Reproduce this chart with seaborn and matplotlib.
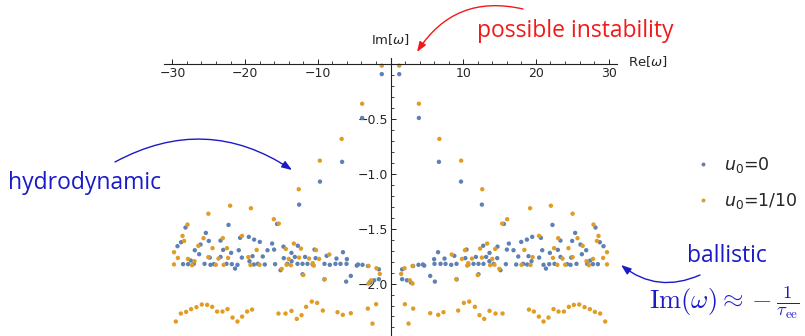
import matplotlib
matplotlib.use("Agg")
import matplotlib.pyplot as plt
import pandas as pd
import seaborn as sns
from matplotlib.ticker import FixedLocator, MultipleLocator

series_labels = ["$u_0$=0", "$u_0$=1/10"]
series_colors = ["#5E81B5", "#E19C24"]

# ---- u0 = 0 (blue) ----
blue_re_left = [
    -1.2, -3.9, -6.66, -9.7, -12.57, -15.6, -22.28, -28.2, -28.8, -25.4,
    -24.99, -23.38, -20.69, -19.49, -18.76, -17.98, -29.3, -26.13, -23.02, -26.92,
    -26.32, -21.92, -20.87, -16.92, -16.28, -27.47, -24.86, -23.38, -20.45, -18.98,
    -17.57, -19.4, -28.53, -27.84, -27.06, -25.58, -24.76, -24.3, -22.56, -21.83,
    -21.05, -21.38, -18.8, -18.25, -17.29, -15.87, -16.01, -14.72, -12.75, -13.62,
    -14.68, -13.6, -13.16, -11.75, -10.45, -10.3, -8.78, -7.43, -6.54, -6.0,
    -15.13, -14.2, -12.79, -12.1, -11.42, -10.7, -9.08, -8.35, -7.57, -6.88,
    -6.05, -4.64, -4.46, -3.85, -3.1, -1.6, -12.1, -9.1, -5.46, -6.1,
    -1.6, -2.25, -2.8]
blue_re_right = [
    1.2, 3.9, 6.66, 9.7, 12.57, 15.6, 22.28, 28.2, 28.8, 25.4,
    24.99, 23.38, 20.69, 19.49, 18.76, 17.98, 29.3, 26.13, 23.02, 26.92,
    26.32, 21.92, 20.87, 16.92, 16.28, 27.47, 24.86, 23.38, 20.45, 18.98,
    17.57, 19.4, 28.53, 27.84, 27.06, 25.58, 24.76, 24.3, 22.56, 21.83,
    21.05, 21.38, 18.8, 18.25, 17.29, 15.87, 16.01, 14.72, 12.75, 13.62,
    14.68, 13.6, 13.16, 11.75, 10.45, 10.3, 8.78, 7.43, 6.54, 6.0,
    15.13, 14.2, 12.79, 12.1, 11.42, 10.7, 9.08, 8.35, 7.57, 6.88,
    6.05, 4.64, 4.46, 3.85, 3.1, 1.6, 12.1, 9.1, 5.46, 6.1,
    1.6, 2.25, 2.8]
blue_im = [
    -0.09, -0.49, -0.89, -1.07, -1.28, -1.456, -1.465, -1.489, -1.623, -1.538,
    -1.611, -1.608, -1.583, -1.574, -1.599, -1.62, -1.659, -1.644, -1.693, -1.696,
    -1.732, -1.72, -1.696, -1.696, -1.635, -1.79, -1.763, -1.757, -1.763, -1.75,
    -1.753, -1.796, -1.823, -1.823, -1.82, -1.82, -1.829, -1.823, -1.82, -1.823,
    -1.829, -1.863, -1.826, -1.82, -1.826, -1.823, -1.69, -1.663, -1.655, -1.72,
    -1.768, -1.796, -1.757, -1.757, -1.69, -1.768, -1.747, -1.772, -1.714, -1.777,
    -1.878, -1.82, -1.82, -1.82, -1.82, -1.826, -1.82, -1.829, -1.82, -1.82,
    -1.82, -1.836, -1.826, -1.829, -1.84, -1.87, -1.915, -1.962, -1.93, -1.982,
    -1.96, -1.97, -1.99]

# ---- u0 = 1/10 (orange) ----
orange_re_left = [
    -1.2, -3.9, -6.72, -9.72, -12.62, -15.36, -16.05, -22.06, -19.2, -25.05,
    -27.92, -28.61, -28.39, -25.72, -23.07, -20.43, -26.43, -24.48, -22.5, -29.78,
    -18.41, -29.25, -27.86, -26.96, -25.05, -23.66, -22.34, -19.55, -29.78, -27.29,
    -24.03, -22.95, -19.26, -18.02, -14.4, -13.3, -12.32, -14.0, -12.57, -11.2,
    -10.25, -9.82, -8.42, -14.97, -14.3, -13.71, -10.7, -10.55, -3.03, -1.93,
    -1.47, -12.0, -9.06, -2.66, -3.03,
    -29.53, -28.84, -28.11, -27.42, -26.69, -25.96, -25.22, -24.53, -23.85, -23.11,
    -22.42, -21.73, -21.05, -20.41, -19.72, -19.04, -15.41, -14.44, -13.62, -12.89,
    -12.24, -11.61, -10.83, -10.09, -9.31, -7.29, -6.56, -5.46, -3.12, -2.48, -1.98]
orange_re_right = [
    1.2, 3.9, 6.72, 9.72, 12.62, 15.36, 16.05, 22.06, 19.2, 25.05,
    27.92, 28.61, 28.39, 25.72, 23.07, 20.43, 26.43, 24.48, 22.5, 29.78,
    18.41, 29.25, 27.86, 26.96, 25.05, 23.66, 22.34, 19.55, 29.78, 27.29,
    24.03, 22.95, 19.26, 18.02, 14.4, 13.3, 12.32, 14.0, 12.57, 11.2,
    10.25, 9.82, 8.42, 14.97, 14.3, 13.71, 10.7, 10.55, 3.03, 1.93,
    1.47, 12.0, 9.06, 2.66, 3.03,
    29.53, 28.84, 28.11, 27.42, 26.69, 25.96, 25.22, 24.53, 23.85, 23.11,
    22.42, 21.73, 21.05, 20.41, 19.72, 19.04, 15.41, 14.44, 13.62, 12.89,
    12.24, 11.61, 10.83, 10.09, 9.31, 7.29, 6.56, 5.46, 3.12, 2.48, 1.98]
orange_im = [
    -0.013, -0.36, -0.681, -0.879, -1.14, -1.453, -1.413, -1.29, -1.313, -1.363,
    -1.462, -1.565, -1.611, -1.586, -1.586, -1.565, -1.656, -1.677, -1.677, -1.714,
    -1.693, -1.766, -1.775, -1.796, -1.759, -1.772, -1.766, -1.759, -1.825, -1.832,
    -1.828, -1.829, -1.83, -1.829, -1.684, -1.635, -1.681, -1.775, -1.763, -1.772,
    -1.695, -1.775, -1.735, -1.866, -1.828, -1.832, -1.814, -1.836, -1.839, -1.86,
    -1.912, -1.922, -1.96, -1.97, -2.0,
    -2.346, -2.273, -2.258, -2.233, -2.215, -2.191, -2.194, -2.212, -2.255, -2.255,
    -2.233, -2.310, -2.346, -2.301, -2.255, -2.237, -2.273, -2.273, -2.249, -2.322,
    -2.288, -2.212, -2.164, -2.176, -2.246, -2.261, -2.285, -2.270, -2.228, -2.365, -2.188]

x_ticks = [-30, -20, -10, 10, 20, 30]
x_tick_labels = ["\u221230", "\u221220", "\u221210", "10", "20", "30"]
y_ticks = [-0.5, -1.0, -1.5, -2.0]
y_tick_labels = ["\u22120.5", "\u22121.0", "\u22121.5", "\u22122.0"]

re_vals = blue_re_left + blue_re_right + orange_re_left + orange_re_right
im_vals = blue_im + blue_im + orange_im + orange_im
ser = ([series_labels[0]] * (2 * len(blue_im)) +
       [series_labels[1]] * (2 * len(orange_im)))
df = pd.DataFrame({"re": re_vals, "im": im_vals, "series": ser})

sns.set_style("white")
plt.rcParams["font.family"] = ["DejaVu Sans"]

W, H = 805, 336
fig = plt.figure(figsize=(W / 100, H / 100), dpi=100)
x0px, scale_x = 390.5, 7.27
xl, xr = -31.2, 31.2
ax = fig.add_axes([(x0px + xl * scale_x) / W, 0, (xr - xl) * scale_x / W, 278 / H])

sns.scatterplot(data=df, x="re", y="im", hue="series", hue_order=series_labels,
                palette=series_colors, s=10, linewidth=0, ax=ax, legend=True,
                clip_on=False)
ax.set_xlim(xl, xr)
ax.set_ylim(-2.478, 0.057)
ax.set_xlabel("")
ax.set_ylabel("")

for side in ["top", "right"]:
    ax.spines[side].set_visible(False)
ax.spines["left"].set_position(("data", 0))
ax.spines["bottom"].set_position(("data", 0))
for side in ["left", "bottom"]:
    ax.spines[side].set_color("#222222")
    ax.spines[side].set_linewidth(0.8)

ax.xaxis.set_major_locator(FixedLocator(x_ticks))
ax.set_xticklabels(x_tick_labels)
ax.xaxis.set_minor_locator(MultipleLocator(2))
ax.yaxis.set_major_locator(FixedLocator(y_ticks))
ax.set_yticklabels(y_tick_labels)
ax.yaxis.set_minor_locator(MultipleLocator(0.1))
ax.tick_params(which="both", bottom=True, left=True, top=False, right=False)
ax.tick_params(which="major", direction="in", length=3.8, width=0.7,
               labelsize=9, pad=2, color="#222222")
ax.tick_params(which="minor", direction="in", length=2.2, width=0.6,
               color="#222222")

sns.move_legend(ax, "upper left", bbox_to_anchor=(677 / W, 1 - 139 / H),
                bbox_transform=fig.transFigure, frameon=False, title=None,
                fontsize=12.5, markerscale=0.9, handletextpad=0.6,
                labelspacing=0.95, handlelength=1.2)
for t in ax.get_legend().get_texts():
    t.set_math_fontfamily("dejavusans")

fig.text(390.5 / W, 1 - 40 / H, "Im[$\\omega$]", ha="center", va="center", fontsize=9.5)
fig.text(628 / W, 1 - 62 / H, "Re[$\\omega$]", ha="left", va="center", fontsize=9.5)

ann_blue = "#1a1ac8"
ann_red = "#f01a1a"
ann_font = ["Open Sans", "DejaVu Sans"]
fig.text(8 / W, 1 - 183 / H, "hydrodynamic", ha="left", va="center",
         fontsize=16.5, color=ann_blue, family=ann_font)
fig.text(477 / W, 1 - 31 / H, "possible instability", ha="left", va="center",
         fontsize=16.5, color=ann_red, family=ann_font)
fig.text(727 / W, 1 - 256 / H, "ballistic", ha="center", va="center",
         fontsize=16.5, color=ann_blue, family=ann_font)
fig.text(724 / W, 1 - 303 / H, r"$\mathrm{Im}(\omega)\approx-\frac{1}{\tau_{\mathrm{ee}}}$",
         ha="center", va="center", fontsize=19, color=ann_blue, math_fontfamily="cm")


def curved_arrow(start_px, end_px, rad, color):
    ax.annotate("", xy=(end_px[0] / W, 1 - end_px[1] / H),
                xytext=(start_px[0] / W, 1 - start_px[1] / H),
                xycoords="figure fraction", textcoords="figure fraction",
                annotation_clip=False,
                arrowprops=dict(arrowstyle="-|>,head_length=0.6,head_width=0.22",
                                color=color, lw=1.0, shrinkA=0, shrinkB=0,
                                connectionstyle=f"arc3,rad={rad}"))


curved_arrow((115, 162), (292, 170), -0.3, ann_blue)
curved_arrow((523, 9), (417, 52), 0.35, ann_red)
curved_arrow((700, 275), (621, 265), -0.3, ann_blue)

fig.savefig("out.png", dpi=100)
